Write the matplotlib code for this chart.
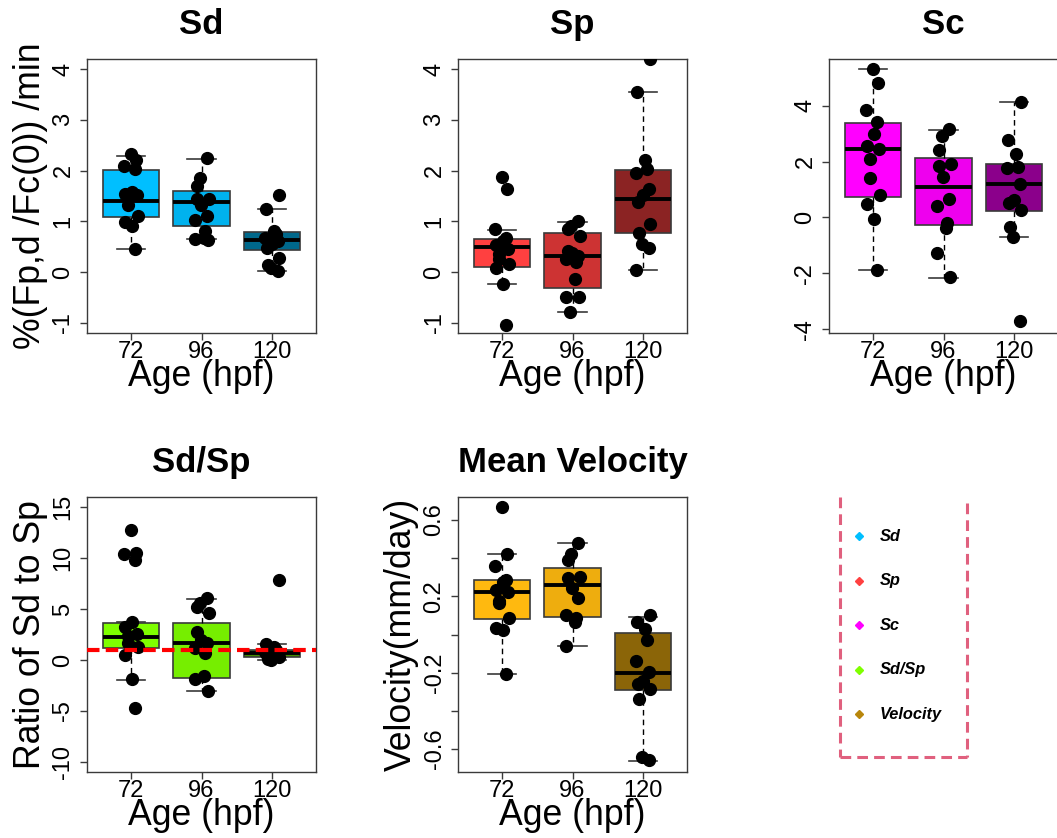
import numpy as np
import matplotlib.pyplot as plt

plt.rcParams['font.family'] = ['Liberation Sans', 'DejaVu Sans']

ages = ['72', '96', '120']

# Sd (%(Fp,d/Fc(0))/min)
sd_72 = [2.32, 2.20, 2.09, 2.04, 1.58, 1.53, 1.51, 1.48, 1.32, 1.10, 0.98, 0.91, 0.45]
sd_96 = [2.25, 1.86, 1.70, 1.45, 1.44, 1.33, 1.10, 1.02, 0.82, 0.68, 0.66, 0.64]
sd_120 = [1.51, 1.25, 0.81, 0.75, 0.67, 0.62, 0.55, 0.48, 0.28, 0.14, 0.09, 0.02]
# box stats: whisker low, Q1, median, Q3, whisker high
sd_box = [(0.45, 1.09, 1.40, 2.02, 2.28), (0.66, 0.91, 1.39, 1.59, 2.23), (0.02, 0.44, 0.64, 0.79, 1.25)]

# Sp
sp_72 = [1.87, 1.63, 0.85, 0.68, 0.62, 0.54, 0.45, 0.35, 0.25, 0.15, 0.09, -0.23, -1.04]
sp_96 = [1.01, 0.91, 0.85, 0.72, 0.42, 0.38, 0.32, 0.25, 0.19, -0.13, -0.50, -0.50, -0.79]
sp_120 = [4.20, 3.54, 2.20, 2.04, 1.96, 1.63, 1.51, 1.38, 0.95, 0.78, 0.55, 0.48, 0.05]
sp_box = [(-0.23, 0.11, 0.50, 0.66, 0.83), (-0.79, -0.32, 0.32, 0.77, 0.99), (0.05, 0.77, 1.45, 2.02, 3.54)]

# Sc
sc_72 = [5.33, 4.83, 3.84, 3.43, 2.99, 2.56, 2.47, 2.08, 1.42, 0.79, 0.47, -0.07, -1.88]
sc_96 = [3.16, 2.91, 2.41, 1.91, 1.84, 1.46, 0.65, 0.41, -0.18, -0.36, -1.28, -2.14]
sc_120 = [4.13, 2.79, 2.27, 1.82, 1.76, 1.20, 0.63, 0.51, 0.27, -0.33, -0.69, -3.72]
sc_box = [(-1.88, 0.74, 2.45, 3.39, 5.31), (-2.16, -0.28, 1.08, 2.12, 3.15), (-0.69, 0.24, 1.19, 1.92, 4.13)]

# Sd/Sp ratio
ratio_72 = [12.8, 10.5, 10.4, 9.8, 3.76, 3.27, 2.55, 2.35, 1.63, 1.30, 0.48, -1.90, -4.75]
ratio_96 = [6.10, 5.57, 5.24, 4.65, 2.75, 1.96, 1.63, 1.14, 0.65, -1.58, -1.88, -3.03]
ratio_120 = [7.85, 1.53, 1.30, 0.98, 0.80, 0.70, 0.65, 0.48, 0.32, 0.09, 0.00]
ratio_box = [(-1.97, 1.14, 2.29, 3.60, 3.76), (-3.00, -1.78, 1.63, 3.60, 5.99), (0.00, 0.29, 0.65, 1.00, 1.53)]
ratio_ref = 1.0

# Mean velocity (mm/day)
vel_72 = [0.666, 0.422, 0.359, 0.286, 0.277, 0.234, 0.220, 0.173, 0.164, 0.085, 0.033, 0.021, -0.206]
vel_96 = [0.478, 0.422, 0.391, 0.303, 0.295, 0.242, 0.190, 0.103, 0.085, 0.063, -0.058]
vel_120 = [0.100, 0.063, 0.030, -0.028, -0.138, -0.195, -0.246, -0.258, -0.286, -0.337, -0.642, -0.656]
vel_box = [(-0.206, 0.080, 0.223, 0.283, 0.422), (-0.058, 0.091, 0.258, 0.347, 0.478), (-0.661, -0.293, -0.199, 0.007, 0.092)]

sd_cols = ['#00BFFF', '#00B2EE', '#00688B']
sp_cols = ['#FF4040', '#CD3333', '#8B2323']
sc_cols = ['#FF00FF', '#EE00EE', '#8B008B']
ratio_cols = ['#7FFF00', '#76EE00', '#458B00']
vel_cols = ['#FFB90F', '#EEAD0E', '#8B6508']

legend_names = ['Sd', 'Sp', 'Sc', 'Sd/Sp', 'Velocity']
legend_cols = ['#00BFFF', '#FF4040', '#FF00FF', '#7FFF00', '#B8860B']

W, H = 1057, 838
fig = plt.figure(figsize=(W / 100, H / 100), dpi=100)


def px_axes(left, top, width, height):
    return fig.add_axes([left / W, 1 - (top + height) / H, width / W, height / H])


def panel(ax, groups, box, cols, title, ylim, yticks, yticklabels=None, ylabel=None):
    stats = []
    for lo, q1, med, q3, hi in box:
        stats.append(dict(whislo=lo, q1=q1, med=med, q3=q3, whishi=hi, fliers=[]))
    bp = ax.bxp(stats, positions=[1, 2, 3], widths=0.8, capwidths=0.4, patch_artist=True,
                showfliers=False,
                boxprops=dict(edgecolor='#3a3a3a', linewidth=1.2),
                medianprops=dict(color='black', linewidth=2.8, solid_capstyle='butt'),
                whiskerprops=dict(color='black', linewidth=1.0, linestyle=(0, (4, 3))),
                capprops=dict(color='#3a3a3a', linewidth=1.2))
    for patch, c in zip(bp['boxes'], cols):
        patch.set_facecolor(c)
    for i, vals in enumerate(groups):
        n = len(vals)
        jit = 0.1 * np.sin(np.arange(n) * 2.3 + i)
        ax.plot(np.full(n, i + 1) + jit, vals, 'o', color='black', markersize=8.5,
                zorder=5, clip_on=True)
    ax.set_xlim(0.38, 3.62)
    ax.set_ylim(*ylim)
    ax.set_xticks([1, 2, 3])
    ax.set_xticklabels(ages)
    ax.set_yticks(yticks)
    if yticklabels is None:
        yticklabels = [f'{t:g}' for t in yticks]
    ax.set_yticklabels(yticklabels, rotation=90, va='center')
    ax.tick_params(axis='both', labelsize=17, length=5, width=1, color='#3a3a3a')
    ax.tick_params(axis='x', pad=1)
    ax.tick_params(axis='y', pad=4)
    for s in ax.spines.values():
        s.set_color('#3a3a3a')
        s.set_linewidth(1.0)
    ax.set_title(title, fontsize=25, fontweight='bold', pad=18)
    ax.set_xlabel('Age (hpf)', fontsize=25.7)
    ax.xaxis.set_label_coords(0.5, -0.095)
    if ylabel:
        ax.set_ylabel(ylabel, fontsize=25.7)
        ax.yaxis.set_label_coords(-0.172, 0.5)


ax1 = px_axes(87, 59, 229, 274)
panel(ax1, [sd_72, sd_96, sd_120], sd_box, sd_cols, 'Sd', (-1.2, 4.2), [-1, 0, 1, 2, 3, 4],
      ylabel='%(Fp,d /Fc(0)) /min')

ax2 = px_axes(458, 59, 229, 274)
panel(ax2, [sp_72, sp_96, sp_120], sp_box, sp_cols, 'Sp', (-1.2, 4.2), [-1, 0, 1, 2, 3, 4])

ax3 = px_axes(829, 59, 229, 274)
panel(ax3, [sc_72, sc_96, sc_120], sc_box, sc_cols, 'Sc', (-4.14, 5.68), [-4, -2, 0, 2, 4])

ax4 = px_axes(87, 497, 229, 275)
panel(ax4, [ratio_72, ratio_96, ratio_120], ratio_box, ratio_cols, 'Sd/Sp', (-11, 16),
      [-10, -5, 0, 5, 10, 15], ylabel='Ratio of Sd to Sp')
ax4.axhline(ratio_ref, color='red', linewidth=3, linestyle=(0, (3, 1.5)), zorder=6)

ax5 = px_axes(458, 497, 229, 275)
panel(ax5, [vel_72, vel_96, vel_120], vel_box, vel_cols, 'Mean Velocity', (-0.72, 0.72),
      [-0.6, -0.4, -0.2, 0, 0.2, 0.4, 0.6], ['-0.6', '', '-0.2', '', '0.2', '', '0.6'],
      ylabel='Velocity(mm/day)')

# legend drawn in figure pixel space
lg = fig.add_axes([0, 0, 1, 1], zorder=-1)
lg.set_xlim(0, W)
lg.set_ylim(H, 0)
lg.axis('off')
box_col = '#E0607E'
dash = (0, (3.5, 2))
lg.plot([840, 840], [497, 757], color=box_col, lw=2.2, linestyle=dash)
lg.plot([967, 967], [503, 757], color=box_col, lw=2.2, linestyle=dash)
lg.plot([840, 967], [757, 757], color=box_col, lw=2.2, linestyle=dash)
for i, (name, c) in enumerate(zip(legend_names, legend_cols)):
    y = 536 + i * 44.5
    lg.plot(859, y, 'D', color=c, markersize=4.5)
    lg.text(880, y, name, fontsize=11.8, fontweight='bold', fontstyle='italic',
            va='center', ha='left')

fig.savefig('out.png', dpi=100)
